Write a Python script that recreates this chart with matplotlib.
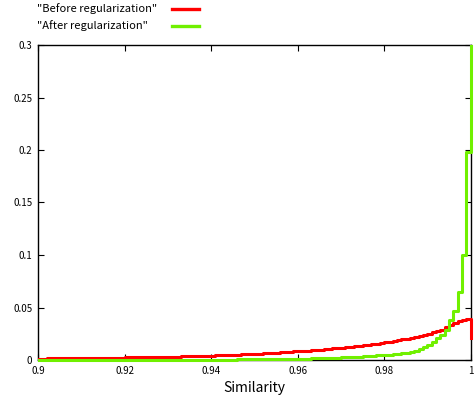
import matplotlib
matplotlib.use("Agg")
import matplotlib.pyplot as plt
import numpy as np
from matplotlib.lines import Line2D
from matplotlib.patches import Rectangle
from matplotlib.ticker import FormatStrFormatter

# bin left edges 0.900 .. 1.000, step 0.001
similarity = np.round(np.arange(0.9, 1.0005, 0.001), 3)

before = [
    0.0014, 0.0014, 0.0015, 0.0015, 0.0016, 0.0016, 0.0017, 0.0017, 0.0018, 0.0018,
    0.0019, 0.0019, 0.0020, 0.0020, 0.0021, 0.0021, 0.0022, 0.0022, 0.0023, 0.0023,
    0.0024, 0.0024, 0.0025, 0.0025, 0.0026, 0.0026, 0.0027, 0.0028, 0.0029, 0.0030,
    0.0031, 0.0032, 0.0033, 0.0034, 0.0035, 0.0036, 0.0037, 0.0039, 0.0040, 0.0041,
    0.0042, 0.0044, 0.0045, 0.0047, 0.0048, 0.0050, 0.0052, 0.0053, 0.0055, 0.0057,
    0.0059, 0.0061, 0.0063, 0.0065, 0.0067, 0.0070, 0.0072, 0.0075, 0.0078, 0.0081,
    0.0084, 0.0087, 0.0090, 0.0093, 0.0096, 0.0099, 0.0102, 0.0106, 0.0110, 0.0114,
    0.0118, 0.0122, 0.0126, 0.0130, 0.0135, 0.0140, 0.0145, 0.0150, 0.0156, 0.0162,
    0.0168, 0.0174, 0.0181, 0.0188, 0.0196, 0.0204, 0.0212, 0.0221, 0.0230, 0.0240,
    0.0250, 0.0262, 0.0275, 0.0290, 0.0310, 0.0330, 0.0350, 0.0370, 0.0385, 0.0392,
    0.0210,
]

after = [
    0.0000, 0.0000, 0.0000, 0.0000, 0.0000, 0.0000, 0.0000, 0.0000, 0.0000, 0.0000,
    0.0000, 0.0000, 0.0000, 0.0000, 0.0000, 0.0000, 0.0000, 0.0000, 0.0000, 0.0000,
    0.0001, 0.0001, 0.0001, 0.0001, 0.0001, 0.0001, 0.0001, 0.0001, 0.0001, 0.0001,
    0.0001, 0.0001, 0.0001, 0.0001, 0.0001, 0.0002, 0.0002, 0.0002, 0.0002, 0.0002,
    0.0003, 0.0003, 0.0003, 0.0004, 0.0004, 0.0004, 0.0005, 0.0005, 0.0005, 0.0006,
    0.0006, 0.0007, 0.0007, 0.0008, 0.0008, 0.0009, 0.0009, 0.0010, 0.0010, 0.0011,
    0.0012, 0.0013, 0.0014, 0.0015, 0.0016, 0.0017, 0.0018, 0.0019, 0.0021, 0.0022,
    0.0024, 0.0026, 0.0028, 0.0030, 0.0032, 0.0034, 0.0037, 0.0040, 0.0043, 0.0045,
    0.0048, 0.0052, 0.0056, 0.0060, 0.0065, 0.0070, 0.0080, 0.0089, 0.0105, 0.0120,
    0.0143, 0.0175, 0.0206, 0.0238, 0.0286, 0.0380, 0.0470, 0.0650, 0.1000, 0.1980,
    0.3500,
]

labels = ['"Before regularization"', '"After regularization"']
colors = ["#ff0000", "#70f000"]

plt.rcParams["font.family"] = ["Noto Sans CJK JP", "DejaVu Sans"]

W, H = 477, 401
fig = plt.figure(figsize=(W / 100, H / 100), dpi=100)
ax = fig.add_axes([38 / W, 1 - 360 / H, (470.7 - 38) / W, (360 - 45) / H])

# clip at the top of the frame but let the lines sit over the bottom border
clip = Rectangle((0, -0.02), 1.01, 1.02, transform=ax.transAxes)
for ys, c in zip([before, after], colors):
    ln, = ax.plot(similarity, ys, drawstyle="steps-post", color=c, lw=2.2, zorder=3)
    ln.set_clip_path(clip)

ax.set_xlim(0.9, 1.0)
ax.set_ylim(0, 0.3)
ax.set_xticks(np.arange(0.9, 1.0001, 0.02))
ax.set_yticks(np.arange(0, 0.3001, 0.05))
ax.xaxis.set_major_formatter(FormatStrFormatter("%g"))
ax.yaxis.set_major_formatter(FormatStrFormatter("%g"))
ax.tick_params(direction="in", top=True, right=True, length=4, width=0.8,
               labelsize=7, pad=4)
for s in ax.spines.values():
    s.set_linewidth(1.0)
ax.set_xlabel("Similarity", fontsize=10, labelpad=4)

# gnuplot-style key: text left-aligned, line sample to the right
for i, (lab, c) in enumerate(zip(labels, colors)):
    y = 1 - (9 + 17 * i) / H
    fig.text(37 / W, y, lab, fontsize=8, ha="left", va="center")
    fig.add_artist(Line2D([172 / W, 199 / W], [y, y], color=c, lw=2.4))

fig.savefig("out.png", dpi=100)
